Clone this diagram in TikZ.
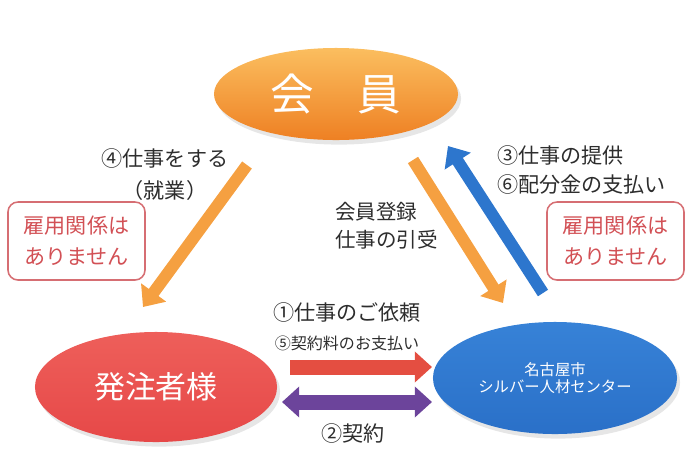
\documentclass[tikz,border=0pt]{standalone}
\usepackage{fontspec}
\setmainfont{Noto Sans CJK JP}
\usepackage{tikz}
\usetikzlibrary{positioning}
\usetikzlibrary{shapes.geometric, arrows.meta, shadows}
\definecolor{kaiintop}{RGB}{251,190,95}
\definecolor{kaiinbot}{RGB}{238,128,35}
\definecolor{irainred}{RGB}{230,72,72}
\definecolor{iraintop}{RGB}{238,95,90}
\definecolor{silverblue}{RGB}{42,112,200}
\definecolor{silvertop}{RGB}{55,130,215}
\definecolor{arroworange}{RGB}{245,160,65}
\definecolor{arrowblue}{RGB}{45,118,205}
\definecolor{arrowred}{RGB}{228,78,65}
\definecolor{arrowpurple}{RGB}{108,68,155}
\definecolor{boxrose}{RGB}{214,110,115}
\definecolor{boxtext}{RGB}{210,80,85}
\definecolor{labelgray}{RGB}{45,45,45}
\tikzstyle{member} = [ellipse, inner sep=0pt, text=white, align=center, drop shadow={opacity=0.2, shadow xshift=0.4ex, shadow yshift=-0.6ex}]
\tikzstyle{note} = [draw=boxrose, line width=1.1pt, rounded corners=0.25cm, text=boxtext, align=center, minimum width=3.425cm, minimum height=1.95cm, font=\fontsize{15}{22}\selectfont]
\tikzstyle{lbl} = [text=labelgray, inner sep=0pt, font=\fontsize{15}{21}\selectfont]
\tikzstyle{fatarrow} = [line width=0.3cm, -{Triangle[width=0.75cm, length=0.45cm]}]
\tikzstyle{flatarrow} = [line width=0.375cm, -{Triangle[width=0.75cm, length=0.43cm]}]
\tikzstyle{twowayarrow} = [line width=0.375cm, {Triangle[width=0.75cm, length=0.43cm]}-{Triangle[width=0.75cm, length=0.43cm]}]

\begin{document}
\begin{tikzpicture}[x=0.025cm, y=-0.025cm]
\useasboundingbox (0,0) rectangle (700,463);
% ellipses
\draw (336,94) node (kaiin) [member, top color=kaiintop, bottom color=kaiinbot, minimum width=6.1cm, minimum height=2.3cm, font=\fontsize{31}{31}\selectfont] {会　員};
\draw (156,387) node (hacchu) [member, top color=iraintop, bottom color=irainred, minimum width=6.05cm, minimum height=2.75cm, font=\fontsize{22}{22}\selectfont] {発注者様};
\draw (555,378) node (silver) [member, top color=silvertop, bottom color=silverblue, minimum width=6.1cm, minimum height=2.8cm, font=\fontsize{10.9}{12}\selectfont] {名古屋市\\シルバー人材センター};
% arrow ends
\coordinate (workS) at (247,165);
\coordinate (workE) at (143,307);
\coordinate (regS) at (413,160);
\coordinate (regE) at (503,303);
\coordinate (payS) at (543,293);
\coordinate (payE) at (448,146);
\coordinate (reqS) at (290,367);
\coordinate (reqE) at (432,367);
\coordinate (conS) at (282,402);
\coordinate (conE) at (432,402);
\draw[fatarrow, arroworange] (workS)--(workE);
\draw[fatarrow, arroworange] (regS)--(regE);
\draw[fatarrow, arrowblue] (payS)--(payE);
\draw[flatarrow, arrowred] (reqS)--(reqE);
\draw[twowayarrow, arrowpurple] (conS)--(conE);
% labels
\draw (165,158) node (lblwork) [lbl] {④仕事をする};
\draw (165,190) node (lblshugyo) [lbl] {（就業）};
\draw (335,226) node (lblreg) [lbl, anchor=west, align=left, font=\fontsize{14.6}{20}\selectfont] {会員登録\\仕事の引受};
\draw (497,170) node (lblpay) [lbl, anchor=west, align=left] {③仕事の提供\\⑥配分金の支払い};
\draw (347,312) node (lblreq) [lbl] {①仕事のご依頼};
\draw (347,343) node (lblfee) [lbl, font=\fontsize{11.4}{12}\selectfont] {⑤契約料のお支払い};
\draw (353,433) node (lblcon) [lbl] {②契約};
\draw (76.5,241) node (noteL) [note] {雇用関係は\\ありません};
\draw (615.5,241) node (noteR) [note] {雇用関係は\\ありません};
\end{tikzpicture}
\end{document}
